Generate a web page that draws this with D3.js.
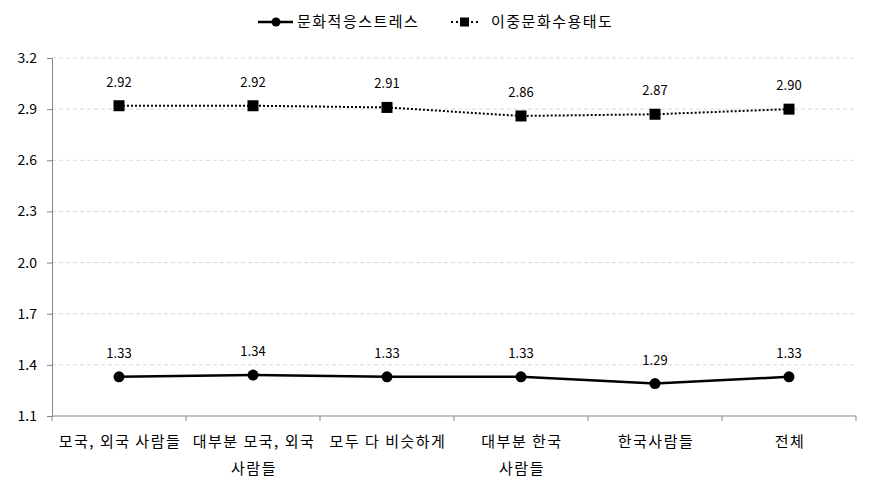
<!DOCTYPE html>
<html>
<head>
<meta charset="utf-8">
<script src="https://cdn.jsdelivr.net/npm/d3@7"></script>
<style>
  body { margin: 0; background: #fff; }
  text { font-family: "Noto Sans CJK KR", "Noto Sans", sans-serif; fill: #000; }
  .kr { font-size: 15px; letter-spacing: 1.5px; }
</style>
</head>
<body>
<div id="chart"></div>
<script>
// categories (each split into the lines shown under the axis)
const categories = [
  ["모국, 외국 사람들"],
  ["대부분 모국, 외국", "사람들"],
  ["모두 다 비슷하게"],
  ["대부분 한국", "사람들"],
  ["한국사람들"],
  ["전체"]
];
const seriesNames = ["문화적응스트레스", "이중문화수용태도"];
const stressValues = [1.33, 1.34, 1.33, 1.33, 1.29, 1.33];
const attitudeValues = [2.92, 2.92, 2.91, 2.86, 2.87, 2.90];
const yTicks = [1.1, 1.4, 1.7, 2.0, 2.3, 2.6, 2.9, 3.2];

const width = 871, height = 493;
const margin = { top: 58, right: 15, bottom: 77, left: 52 };

const svg = d3.select("#chart").append("svg")
  .attr("width", width)
  .attr("height", height);

const x = d3.scaleBand()
  .domain(d3.range(categories.length))
  .range([margin.left, width - margin.right]);

const y = d3.scaleLinear()
  .domain([1.1, 3.2])
  .range([height - margin.bottom, margin.top]);

// gridlines
svg.append("g")
  .selectAll("line")
  .data(yTicks.slice(1))
  .enter().append("line")
  .attr("x1", margin.left)
  .attr("x2", width - margin.right)
  .attr("y1", d => y(d))
  .attr("y2", d => y(d))
  .attr("stroke", "#d9d9d9")
  .attr("stroke-dasharray", "4,3");

// y axis
const yAxis = svg.append("g")
  .attr("transform", "translate(" + margin.left + ",0)")
  .call(d3.axisLeft(y).tickValues(yTicks).tickFormat(d3.format(".1f")).tickSize(5).tickPadding(10));
yAxis.select(".domain").attr("stroke", "#868686");
yAxis.selectAll(".tick line").attr("stroke", "#868686");
yAxis.selectAll(".tick text").style("font-size", "14px").attr("fill", "#000");

// x axis
const xAxis = svg.append("g")
  .attr("transform", "translate(0," + (height - margin.bottom) + ")");
xAxis.append("line")
  .attr("x1", margin.left)
  .attr("x2", width - margin.right)
  .attr("stroke", "#868686");
xAxis.selectAll(".xtick")
  .data(d3.range(categories.length + 1))
  .enter().append("line")
  .attr("x1", i => margin.left + i * x.bandwidth())
  .attr("x2", i => margin.left + i * x.bandwidth())
  .attr("y1", 0)
  .attr("y2", 5)
  .attr("stroke", "#868686");
const xLabels = xAxis.selectAll(".xlabel")
  .data(categories)
  .enter().append("text")
  .attr("class", "kr")
  .attr("text-anchor", "middle");
xLabels.selectAll("tspan")
  .data((d, i) => d.map(t => ({ t: t, i: i })))
  .enter().append("tspan")
  .attr("x", d => x(d.i) + x.bandwidth() / 2 + 1)
  .attr("y", (d, j) => 31 + j * 27)
  .text(d => d.t);

const cx = i => x(i) + x.bandwidth() / 2;

// stress series: solid line with circles
const line = d3.line().x((d, i) => cx(i)).y(d => y(d));
svg.append("path")
  .datum(stressValues)
  .attr("d", line)
  .attr("fill", "none")
  .attr("stroke", "#000")
  .attr("stroke-width", 2.5);
svg.selectAll(".dot")
  .data(stressValues)
  .enter().append("circle")
  .attr("cx", (d, i) => cx(i))
  .attr("cy", d => y(d))
  .attr("r", 5.5)
  .attr("fill", "#000");

// attitude series: dotted line with squares
svg.append("path")
  .datum(attitudeValues)
  .attr("d", line)
  .attr("fill", "none")
  .attr("stroke", "#000")
  .attr("stroke-width", 2)
  .attr("stroke-dasharray", "2,2");
svg.selectAll(".sq")
  .data(attitudeValues)
  .enter().append("rect")
  .attr("x", (d, i) => cx(i) - 5.5)
  .attr("y", d => y(d) - 5.5)
  .attr("width", 11)
  .attr("height", 11)
  .attr("fill", "#000");

// value labels
[stressValues, attitudeValues].forEach(vals => {
  svg.append("g").selectAll("text")
    .data(vals)
    .enter().append("text")
    .attr("x", (d, i) => cx(i))
    .attr("y", d => y(d) - 19)
    .attr("text-anchor", "middle")
    .style("font-size", "13px")
    .text(d => d.toFixed(2));
});

// legend
const legend = svg.append("g").attr("transform", "translate(0,22)");
legend.append("line")
  .attr("x1", 258).attr("x2", 293)
  .attr("stroke", "#000").attr("stroke-width", 2.5);
legend.append("circle").attr("cx", 276).attr("r", 4.5).attr("fill", "#000");
legend.append("text").attr("class", "kr").attr("x", 297).attr("y", 5).text(seriesNames[0]);
legend.append("line")
  .attr("x1", 451).attr("x2", 480)
  .attr("stroke", "#000").attr("stroke-width", 2).attr("stroke-dasharray", "2,3");
legend.append("rect").attr("x", 460).attr("y", -4.5).attr("width", 9).attr("height", 9).attr("fill", "#000");
legend.append("text").attr("class", "kr").attr("x", 491).attr("y", 5).text(seriesNames[1]);
</script>
</body>
</html>
